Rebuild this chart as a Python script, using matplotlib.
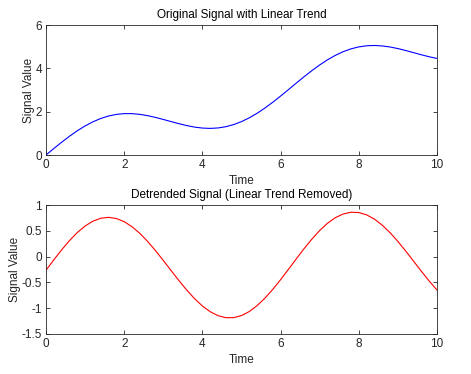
import matplotlib
matplotlib.use("Agg")
import matplotlib.pyplot as plt
import numpy as np

# ── Data ────────────────────────────────────────────────────────────────────
time = np.linspace(0, 10, 51)

original = [
    0.000, 0.299, 0.589, 0.865, 1.117, 1.342, 1.532, 1.685, 1.800, 1.874,
    1.909, 1.909, 1.876, 1.816, 1.735, 1.641, 1.542, 1.445, 1.358, 1.288,
    1.243, 1.228, 1.248, 1.306, 1.404, 1.541, 1.717, 1.927, 2.169, 2.435,
    2.721, 3.017, 3.317, 3.612, 3.894, 4.157, 4.394, 4.599, 4.768, 4.899,
    4.989, 5.041, 5.055, 5.034, 4.985, 4.912, 4.823, 4.725, 4.626, 4.534,
    4.456,
]

detrended = [
    -0.265, -0.063, 0.131, 0.310, 0.466, 0.593, 0.687, 0.743, 0.761, 0.738,
    0.677, 0.579, 0.450, 0.293, 0.116, -0.075, -0.271, -0.465, -0.649, -0.815,
    -0.957, -1.068, -1.145, -1.184, -1.183, -1.143, -1.064, -0.950, -0.805, -0.636,
    -0.447, -0.248, -0.045, 0.154, 0.339, 0.506, 0.646, 0.754, 0.826, 0.860,
    0.854, 0.809, 0.726, 0.609, 0.463, 0.293, 0.107, -0.088, -0.284, -0.473,
    -0.647,
]

x_ticks = [0, 2, 4, 6, 8, 10]
top_yticks = [0, 2, 4, 6]
bot_yticks = [-1.5, -1, -0.5, 0, 0.5, 1]
bot_ylabels = ["-1.5", "-1", "-0.5", "0", "0.5", "1"]

# ── Style ───────────────────────────────────────────────────────────────────
plt.rcParams["font.family"] = ["Liberation Sans", "DejaVu Sans"]
FS = 8.5
TXT = "#262626"

W, H = 471, 374
fig = plt.figure(figsize=(W / 100, H / 100), dpi=100)
fig.patch.set_facecolor("white")

def frame(px_left, px_top, px_right, px_bottom):
    return fig.add_axes([px_left / W, 1 - px_bottom / H,
                         (px_right - px_left) / W, (px_bottom - px_top) / H])

def style(ax):
    ax.tick_params(direction="in", top=True, right=True, length=3,
                   width=0.6, colors=TXT, labelsize=FS, pad=3)
    for s in ax.spines.values():
        s.set_linewidth(0.6)
        s.set_color(TXT)

ax1 = frame(46, 25, 437, 155)
ax1.plot(time, original, color="#0000ff", lw=0.8)
ax1.set_xlim(0, 10)
ax1.set_ylim(0, 6)
ax1.set_xticks(x_ticks)
ax1.set_yticks(top_yticks)
ax1.set_title("Original Signal with Linear Trend", fontsize=FS, color="black", pad=5)
ax1.set_xlabel("Time", fontsize=FS, color=TXT, labelpad=3)
ax1.set_ylabel("Signal Value", fontsize=FS, color=TXT, labelpad=0)
style(ax1)

ax2 = frame(46, 205, 437, 334)
ax2.plot(time, detrended, color="#ff0000", lw=0.8)
ax2.set_xlim(0, 10)
ax2.set_ylim(-1.5, 1)
ax2.set_xticks(x_ticks)
ax2.set_yticks(bot_yticks)
ax2.set_yticklabels(bot_ylabels)
ax2.set_title("Detrended Signal (Linear Trend Removed)", fontsize=FS, color="black", pad=5)
ax2.set_xlabel("Time", fontsize=FS, color=TXT, labelpad=3)
ax2.set_ylabel("Signal Value", fontsize=FS, color=TXT, labelpad=0)
style(ax2)

fig.savefig("out.png", dpi=100)
